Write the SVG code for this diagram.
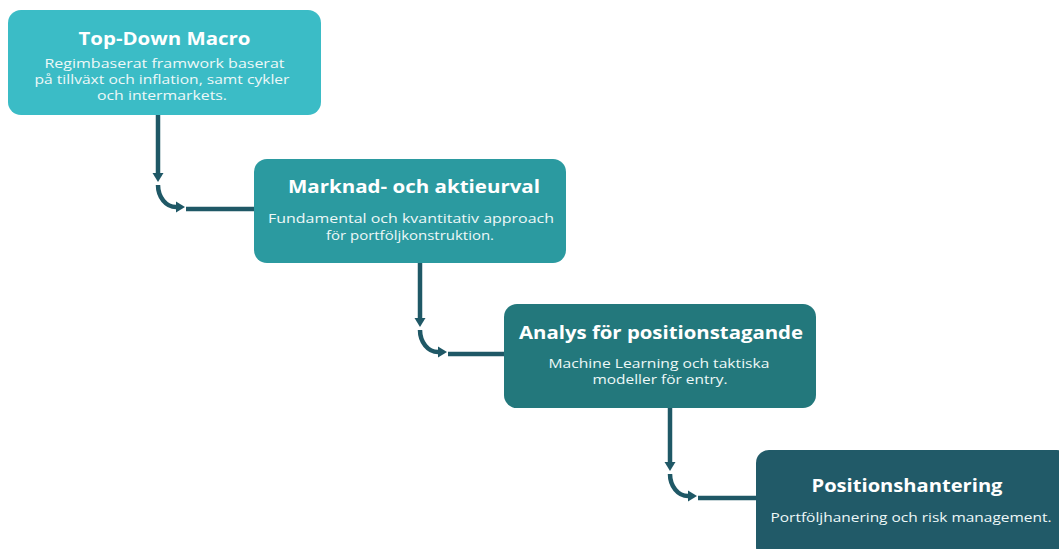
<svg xmlns="http://www.w3.org/2000/svg" width="1059" height="549" viewBox="0 0 1059 549">
<defs>
<marker id="ah" markerUnits="userSpaceOnUse" markerWidth="12" markerHeight="12" viewBox="0 -6 10 12" refX="0" refY="0" orient="auto">
<path d="M0,-5.5 L9,0 L0,5.5 z" fill="#1f5866"/>
</marker>
<style>
.box{stroke:none}
.t{font-family:"Open Sans","Liberation Sans",sans-serif;font-weight:700;font-size:18px;fill:#ffffff;text-anchor:middle}
.b{font-family:"Open Sans","Liberation Sans",sans-serif;font-size:13.5px;fill:#eef8f8;text-anchor:middle}
.c{fill:none;stroke:#1f5866;stroke-width:4.5}
</style>
</defs>
<rect width="1059" height="549" fill="#ffffff"/>
<g id="connectors">
<path class="c" d="M158 115 V173" marker-end="url(#ah)"/>
<path class="c" d="M158 185 A18 22 0 0 0 176 207" marker-end="url(#ah)"/>
<path class="c" d="M186 209 H256"/>
<path class="c" d="M420 263 V318" marker-end="url(#ah)"/>
<path class="c" d="M420 330 A18 22 0 0 0 438 352" marker-end="url(#ah)"/>
<path class="c" d="M448 354 H506"/>
<path class="c" d="M670 408 V462" marker-end="url(#ah)"/>
<path class="c" d="M670 474 A18 22 0 0 0 688 496" marker-end="url(#ah)"/>
<path class="c" d="M698 498 H758"/>
</g>
<g id="node1">
<rect class="box" x="8" y="10" width="313" height="105" rx="13" fill="#3bbcc6"/>
<text class="t" x="164.5" y="45" textLength="172" lengthAdjust="spacingAndGlyphs">Top-Down Macro</text>
<text class="b" x="164.5" y="68" textLength="240" lengthAdjust="spacingAndGlyphs">Regimbaserat framwork baserat</text>
<text class="b" x="162" y="84" textLength="255" lengthAdjust="spacingAndGlyphs">på tillväxt och inflation, samt cykler</text>
<text class="b" x="162" y="100" textLength="130" lengthAdjust="spacingAndGlyphs">och intermarkets.</text>
</g>
<g id="node2">
<rect class="box" x="254" y="159" width="312" height="104" rx="13" fill="#2b9aa0"/>
<text class="t" x="414" y="193" textLength="252" lengthAdjust="spacingAndGlyphs">Marknad- och aktieurval</text>
<text class="b" x="411" y="223" textLength="286" lengthAdjust="spacingAndGlyphs">Fundamental och kvantitativ approach</text>
<text class="b" x="410" y="240" textLength="168" lengthAdjust="spacingAndGlyphs">för portföljkonstruktion.</text>
</g>
<g id="node3">
<rect class="box" x="504" y="304" width="312" height="104" rx="13" fill="#23787c"/>
<text class="t" x="661" y="339" textLength="284" lengthAdjust="spacingAndGlyphs">Analys för positionstagande</text>
<text class="b" x="659" y="368" textLength="221" lengthAdjust="spacingAndGlyphs">Machine Learning och taktiska</text>
<text class="b" x="660" y="384" textLength="135" lengthAdjust="spacingAndGlyphs">modeller för entry.</text>
</g>
<g id="node4">
<rect class="box" x="756" y="450" width="314" height="110" rx="13" fill="#215a68"/>
<text class="t" x="907" y="492" textLength="191" lengthAdjust="spacingAndGlyphs">Positionshantering</text>
<text class="b" x="911" y="522" textLength="281" lengthAdjust="spacingAndGlyphs">Portföljhanering och risk management.</text>
</g>
</svg>
